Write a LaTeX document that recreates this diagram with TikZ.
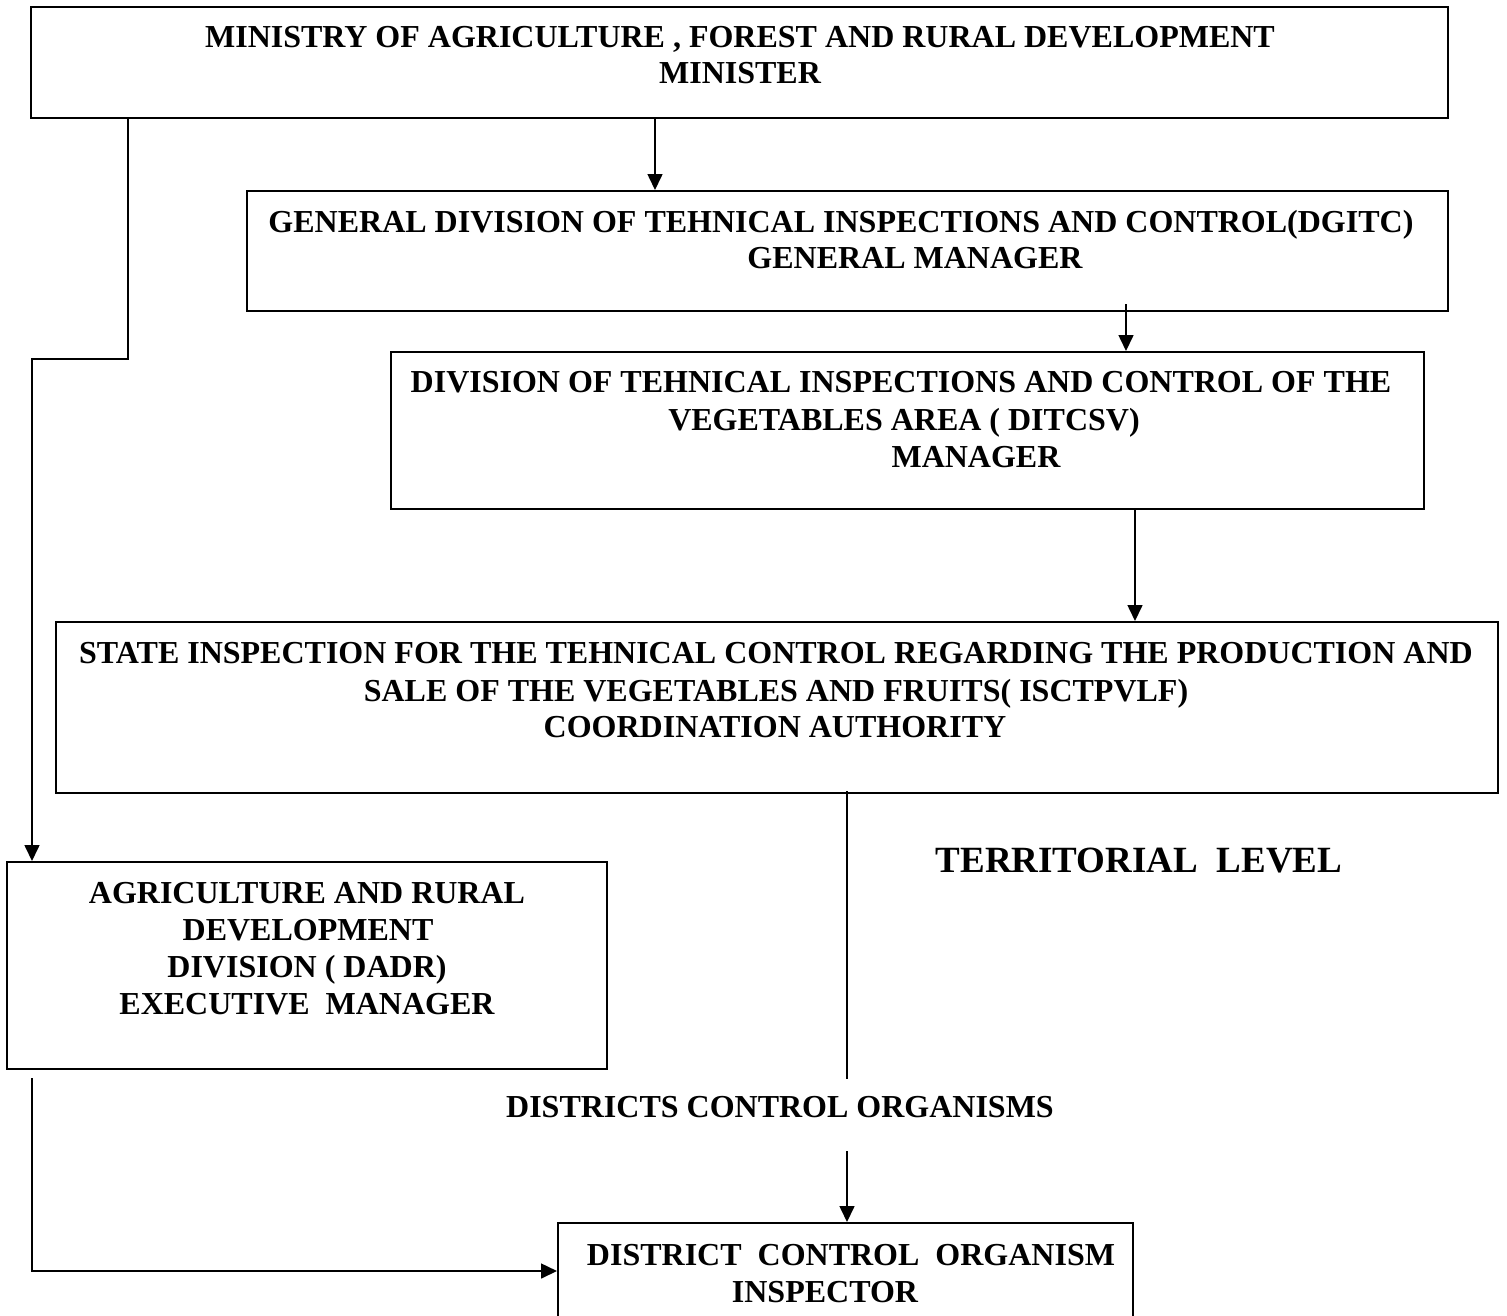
\documentclass[tikz,border=0pt]{standalone}
\usepackage{fontspec}
\setmainfont{Liberation Serif}
\usetikzlibrary{arrows.meta}
\begin{document}
\begin{tikzpicture}[x=1pt,y=-1pt,
  box/.style={draw, line width=2pt, inner sep=0pt, minimum width=#1},
  txt/.style={inner sep=0pt, anchor=base, font=\bfseries\fontsize{32}{37}\selectfont},
  big/.style={inner sep=0pt, anchor=base, font=\bfseries\fontsize{37}{44}\selectfont},
  conn/.style={line width=1.6pt},
  arr/.style={conn, -{Triangle[length=16pt,width=15pt]}}]
\fill[white] (0,0) rectangle (1507,1315);
\useasboundingbox (0,0) rectangle (1507,1315);
% boxes
\node[box=1417pt, minimum height=111pt] (m) at (739.5,62.5) {};
\node[box=1201pt, minimum height=120pt] (g) at (847.5,251) {};
\node[box=1033pt, minimum height=157pt] (d) at (907.5,430.5) {};
\node[box=1442pt, minimum height=171pt] (s) at (777,707.5) {};
\node[box=600pt, minimum height=207pt] (a) at (307,965.5) {};
\node[box=575pt, minimum height=96pt] (c) at (845.5,1271) {};
% texts
\node[txt] (m1) at (740,47) {MINISTRY OF AGRICULTURE , FOREST AND RURAL DEVELOPMENT};
\node[txt] (m2) at (740,83) {MINISTER};
\node[txt] (g1) at (841,232) {GENERAL DIVISION OF TEHNICAL INSPECTIONS AND CONTROL(DGITC)};
\node[txt] (g2) at (915,268) {GENERAL MANAGER};
\node[txt] (d1) at (901,392) {DIVISION OF TEHNICAL INSPECTIONS AND CONTROL OF THE};
\node[txt] (d2) at (904,430) {VEGETABLES AREA ( DITCSV)};
\node[txt] (d3) at (976,467) {MANAGER};
\node[txt] (s1) at (776,663) {STATE INSPECTION FOR THE TEHNICAL CONTROL REGARDING THE PRODUCTION AND};
\node[txt] (s2) at (776,701) {SALE OF THE VEGETABLES AND FRUITS( ISCTPVLF)};
\node[txt] (s3) at (775,737) {COORDINATION AUTHORITY};
\node[txt] (a1) at (307,903) {AGRICULTURE AND RURAL};
\node[txt] (a2) at (308,940) {DEVELOPMENT};
\node[txt] (a3) at (307,977) {DIVISION ( DADR)};
\node[txt] (a4) at (307,1014) {EXECUTIVE\ \ MANAGER};
\node[txt] (dl) at (780,1117) {DISTRICTS CONTROL ORGANISMS};
\node[txt] (c1) at (851,1265) {DISTRICT\ \ CONTROL\ \ ORGANISM};
\node[txt] (c2) at (825,1302) {INSPECTOR};
\node[big] (tl) at (1139,872) {TERRITORIAL\ \ LEVEL};
% helper coordinates
\coordinate (x1) at (655,0);
\coordinate (x2) at (1126,0);
\coordinate (x3) at (1135,0);
\coordinate (xl) at (128,0);
\coordinate (l1) at (32,359);
\coordinate (xm) at (847,0);
\coordinate (mid) at (847,1079);
\coordinate (mid2) at (847,1151);
\coordinate (b1) at (32,1078);
% connectors
\draw[arr] (m.south -| x1) -- (g.north -| x1);
\draw[arr] ([yshift=8pt]g.south -| x2) -- (d.north -| x2);
\draw[arr] (d.south -| x3) -- (s.north -| x3);
\draw[arr] (m.south -| xl) |- (l1) -- (a.north -| l1);
\draw[conn] ([yshift=3pt]s.south -| xm) -- (mid);
\draw[arr] (mid2) -- (c.north -| mid2);
\draw[arr] (b1) |- (c.west);
\end{tikzpicture}
\end{document}
